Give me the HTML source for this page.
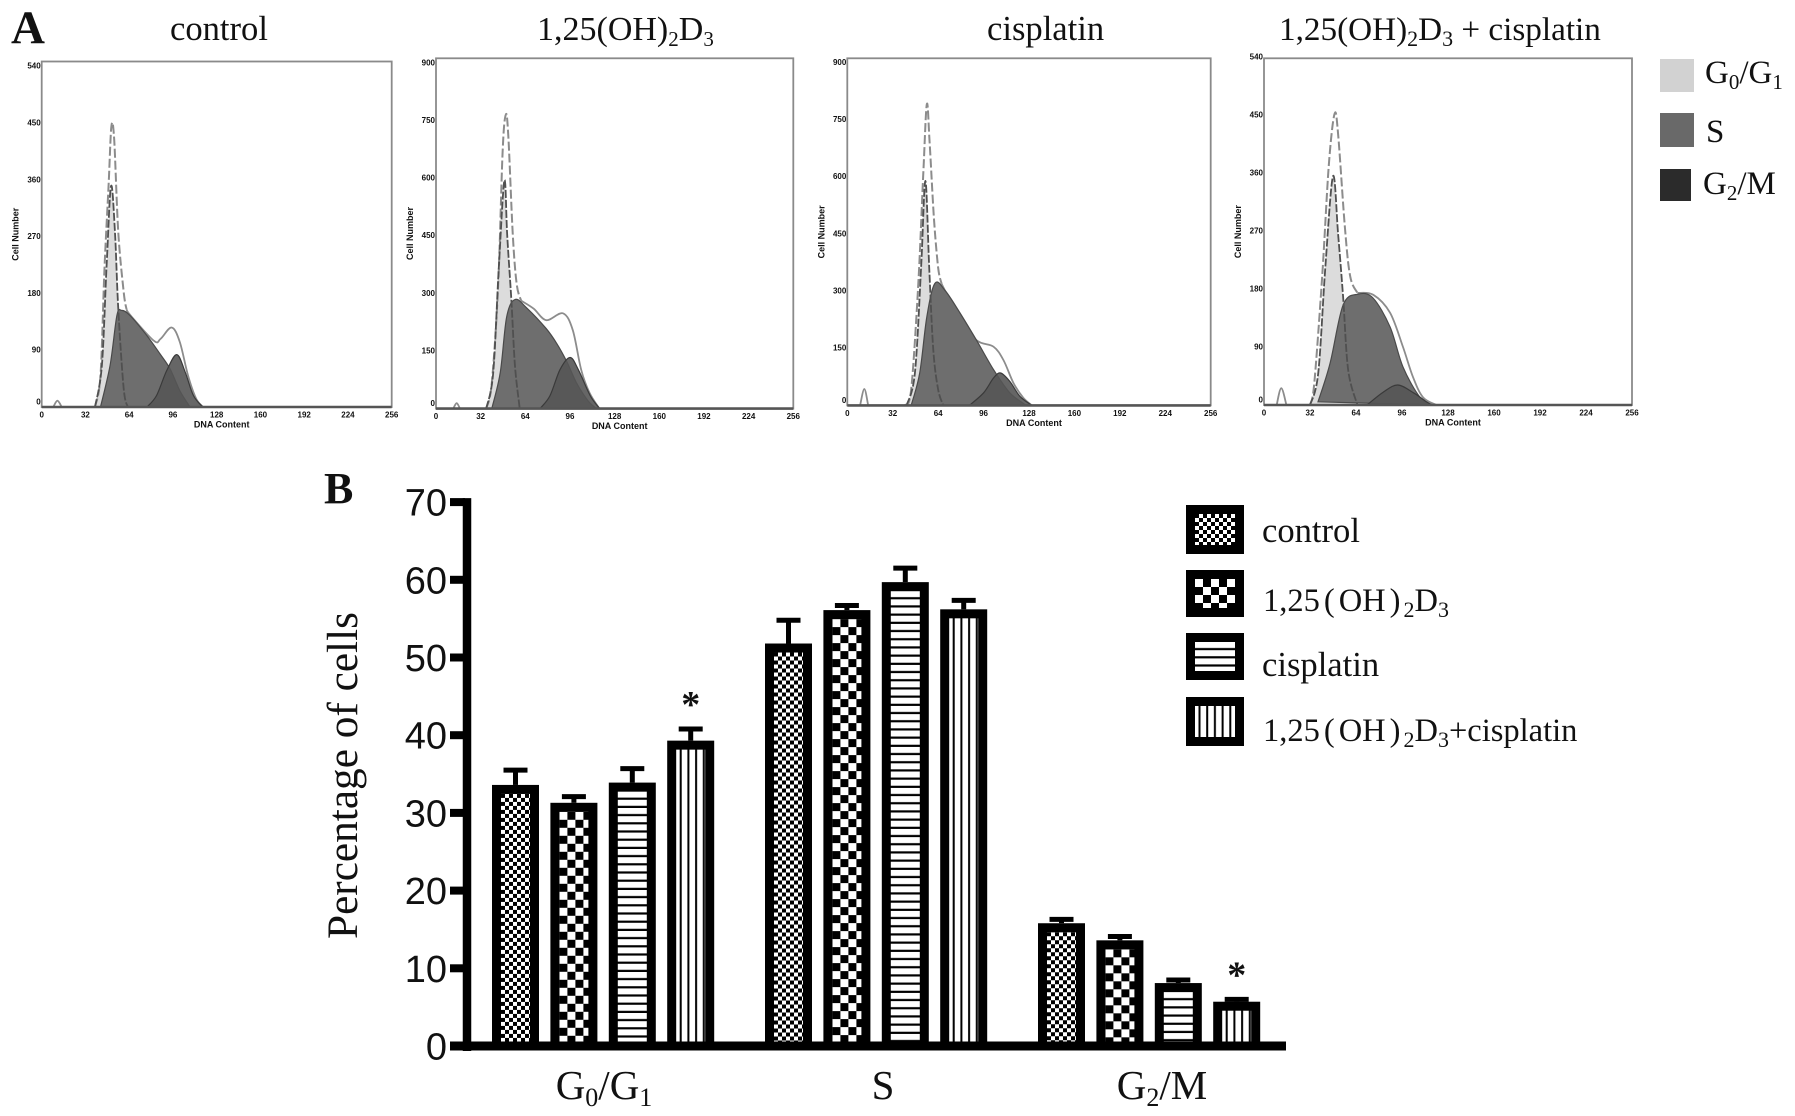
<!DOCTYPE html>
<html lang="en">
<head>
<meta charset="utf-8">
<title>Cell cycle distribution</title>
<style>
html,body{margin:0;padding:0;background:#fff}
svg{display:block}
text{font-family:"Liberation Serif",serif;fill:#111}
.sans{font-family:"Liberation Sans",sans-serif}
</style>
</head>
<body>
<svg id="figure" xmlns="http://www.w3.org/2000/svg" width="1795" height="1116" viewBox="0 0 1795 1116">
<defs>
<pattern id="pat-fine" width="8" height="8" patternUnits="userSpaceOnUse"><rect width="8" height="8" fill="#fff"/><rect width="4" height="4" fill="#000"/><rect x="4" y="4" width="4" height="4" fill="#000"/></pattern>
<pattern id="pat-coarse" width="16" height="16" patternUnits="userSpaceOnUse"><rect width="16" height="16" fill="#fff"/><rect x="8" width="8" height="8" fill="#000"/><rect y="8" width="8" height="8" fill="#000"/></pattern>
<pattern id="pat-horizontal" width="8.2" height="8.2" patternUnits="userSpaceOnUse"><rect width="8.2" height="8.2" fill="#fff"/><rect y="6" width="8.2" height="2.2" fill="#000"/></pattern>
<pattern id="pat-vertical" width="7.7" height="7.7" patternUnits="userSpaceOnUse"><rect width="7.7" height="7.7" fill="#fff"/><rect x="3.5" width="2" height="7.7" fill="#000"/></pattern>
</defs>
<rect width="1795" height="1116" fill="#fff"/>

<text x="11" y="43" font-size="47" font-weight="bold">A</text>
<text x="324" y="503" font-size="44" font-weight="bold">B</text>

<text x="170" y="40" font-size="34.6">control</text>
<text x="537" y="40" font-size="34">1,25(OH)<tspan font-size="21" dy="6">2</tspan><tspan dy="-6">D</tspan><tspan font-size="21" dy="6">3</tspan></text>
<text x="987" y="40" font-size="34.6">cisplatin</text>
<text x="1279" y="40" font-size="33.2">1,25(OH)<tspan font-size="22" dy="6">2</tspan><tspan dy="-6">D</tspan><tspan font-size="22" dy="6">3</tspan><tspan dy="-6"> + cisplatin</tspan></text>

<g>
<rect x="1660" y="59" width="34" height="33" fill="#d2d2d2"/>
<rect x="1660" y="113" width="34" height="34" fill="#696969"/>
<rect x="1660" y="169" width="31" height="32" fill="#2b2b2b"/>
<text x="1705" y="83" font-size="33">G<tspan font-size="21" dy="6">0</tspan><tspan dy="-6">/G</tspan><tspan font-size="21" dy="6">1</tspan></text>
<text x="1706" y="142" font-size="33">S</text>
<text x="1703" y="194" font-size="33">G<tspan font-size="21" dy="6">2</tspan><tspan dy="-6">/M</tspan></text>
</g>

<g id="histograms"></g>

<text transform="translate(357,939) rotate(-90)" font-size="43.3">Percentage of cells</text>
<g id="barchart"></g>

<g>
<rect x="1186" y="505" width="58" height="49" fill="#000"/>
<rect transform="translate(1195,514)" width="40" height="31" fill="url(#pat-fine)"/>
<rect x="1186" y="570" width="58" height="47" fill="#000"/>
<rect transform="translate(1195,579)" width="40" height="29" fill="url(#pat-coarse)"/>
<rect x="1186" y="633" width="58" height="47" fill="#000"/>
<rect transform="translate(1195,642)" width="40" height="29" fill="url(#pat-horizontal)"/>
<rect x="1186" y="697" width="58" height="49" fill="#000"/>
<rect transform="translate(1195,706)" width="40" height="31" fill="url(#pat-vertical)"/>
<text x="1262" y="542" font-size="34.6">control</text>
<text x="1263" y="611" font-size="32.5">1,25<tspan dx="4">(</tspan><tspan dx="4">OH</tspan><tspan dx="4">)</tspan><tspan font-size="22" dx="3" dy="6">2</tspan><tspan dy="-6">D</tspan><tspan font-size="22" dy="6">3</tspan></text>
<text x="1262" y="676" font-size="34.6">cisplatin</text>
<text x="1263" y="741" font-size="32.5">1,25<tspan dx="4">(</tspan><tspan dx="4">OH</tspan><tspan dx="4">)</tspan><tspan font-size="22" dx="3" dy="6">2</tspan><tspan dy="-6">D</tspan><tspan font-size="22" dy="6">3</tspan><tspan dy="-6">+cisplatin</tspan></text>
</g>
</svg>

<script>
/* ---------- Bar chart data (percentage of cells) ---------- */
const categories = ['G_0/G_1', 'S', 'G_2/M'];
const controlValues = [33.6, 51.8, 15.8];
const vitaminDValues = [31.3, 56.1, 13.6];
const cisplatinValues = [33.9, 59.7, 8.1];
const combinationValues = [39.3, 56.2, 5.7];
const controlErrors = [1.9, 3.0, 0.5];
const vitaminDErrors = [0.8, 0.6, 0.5];
const cisplatinErrors = [1.8, 1.8, 0.4];
const combinationErrors = [1.5, 1.15, 0.3];
const significantCategories = ['G_0/G_1', 'G_2/M'];
const barTicks = [0, 10, 20, 30, 40, 50, 60, 70];

/* ---------- Histogram data: channel (DNA content) / cell number ---------- */
const dnaTicks = [0, 32, 64, 96, 128, 160, 192, 224, 256];
const cellTicks540 = [0, 90, 180, 270, 360, 450, 540];
const cellTicks900 = [0, 150, 300, 450, 600, 750, 900];

const controlPeakCh = [39, 43, 46, 49, 51, 53, 56, 60, 62];
const controlPeakN = [0, 50, 224, 355, 445, 424, 276, 182, 155];
const controlTailCh = [62, 65, 82, 87, 95, 101, 107, 113, 118];
const controlTailN = [155, 145, 105, 108, 126, 103, 50, 13, 0];
const controlG1Ch = [39, 44, 47.5, 50.7, 53.6, 56, 60, 63];
const controlG1N = [0, 66, 224, 350, 276, 155, 29, 0];
const controlSCh = [43, 50, 55, 58.5, 64.6, 77, 86.6, 94, 101, 108.5];
const controlSN = [0, 66, 145, 153, 145, 113, 84, 60, 26, 0];
const controlG2Ch = [77, 84, 91.5, 98.8, 105, 111, 118];
const controlG2N = [0, 18, 58, 83, 55, 18, 0];
const controlSpikeCh = [8.5, 11.5, 14.6];
const controlSpikeN = [0, 10, 0];

const vitaminPeakCh = [36, 40, 44.6, 47.7, 50, 51.8, 55, 57.8, 61];
const vitaminPeakN = [0, 67, 324, 667, 765, 710, 452, 324, 281];
const vitaminTailCh = [61, 70, 79, 91, 98, 104, 110, 117];
const vitaminTailN = [281, 260, 230, 248, 204, 101, 41, 0];
const vitaminG1Ch = [36, 41, 45, 49, 51, 54, 56.6, 60];
const vitaminG1N = [0, 93, 367, 594, 452, 281, 110, 0];
const vitaminSCh = [40, 46, 50.6, 56.6, 65, 79, 86.4, 93.6, 100.7, 109, 115];
const vitaminSN = [0, 93, 238, 284, 262, 208, 170, 123, 67, 20, 0];
const vitaminG2Ch = [74.5, 81.6, 88.8, 96, 102, 110.6, 117.4];
const vitaminG2N = [0, 33, 101, 133, 101, 33, 0];
const vitaminSpikeCh = [12.4, 14.8, 17.2];
const vitaminSpikeN = [0, 14, 0];

const cisplatinPeakCh = [40.6, 45, 50, 53.5, 56, 58, 61, 64, 66.4];
const cisplatinPeakN = [0, 42, 319, 604, 790, 691, 492, 362, 319];
const cisplatinTailCh = [66.4, 70, 79, 91, 103, 110, 117, 124, 130];
const cisplatinTailN = [319, 293, 232, 171, 154, 119, 59, 20, 0];
const cisplatinG1Ch = [41.8, 47.6, 52, 55, 57.7, 60.6, 64, 67.6];
const cisplatinG1N = [0, 85, 362, 589, 362, 145, 42, 0];
const cisplatinSCh = [45, 51, 56, 61.7, 69, 79, 91, 103, 114.5, 126];
const cisplatinSN = [0, 85, 232, 320, 301, 245, 171, 94, 33, 0];
const cisplatinG2Ch = [86, 96, 103, 108, 114.5, 121.6, 130];
const cisplatinG2N = [0, 33, 72, 85, 63, 24, 0];
const cisplatinSpikeCh = [9, 12, 14.7];
const cisplatinSpikeN = [0, 43, 0];

const comboPeakCh = [32, 35, 40.5, 45, 49, 51.5, 56.4, 60, 65];
const comboPeakN = [0, 34, 200, 370, 451, 422, 272, 199, 174];
const comboTailCh = [65, 76, 87.7, 96.7, 103.7, 110.6, 120];
const comboTailN = [174, 171, 143, 90, 43, 12, 0];
const comboG1Ch = [32, 37.7, 42.7, 48, 51.5, 55, 58.6, 65];
const comboG1N = [0, 49, 215, 355, 267, 168, 54, 0];
const comboSCh = [37.6, 46, 55, 65.4, 75.8, 87.7, 96.7, 108.5, 117.6];
const comboSN = [5, 65, 155, 172, 166, 121, 59, 12, 0];
const comboG2Ch = [71.6, 83, 93, 104, 113, 117];
const comboG2N = [0, 20, 31, 19, 5, 0];
const comboSpikeCh = [8.8, 12, 15.6];
const comboSpikeN = [0, 26, 0];

const SVG_NS = 'http://www.w3.org/2000/svg';
function make(tag, attrs, parent) {
  const node = document.createElementNS(SVG_NS, tag);
  for (const key in attrs) node.setAttribute(key, attrs[key]);
  parent.appendChild(node);
  return node;
}

/* ---------- Histogram drawing ---------- */
function smoothPath(xs, ys) {
  let d = 'M' + xs[0].toFixed(1) + ' ' + ys[0].toFixed(1);
  for (let i = 0; i < xs.length - 1; i++) {
    const a = Math.max(i - 1, 0), b = Math.min(i + 2, xs.length - 1);
    const c1x = xs[i] + (xs[i + 1] - xs[a]) / 6, c1y = ys[i] + (ys[i + 1] - ys[a]) / 6;
    const c2x = xs[i + 1] - (xs[b] - xs[i]) / 6, c2y = ys[i + 1] - (ys[b] - ys[i]) / 6;
    d += 'C' + c1x.toFixed(1) + ' ' + c1y.toFixed(1) + ' ' + c2x.toFixed(1) + ' ' + c2y.toFixed(1) + ' ' + xs[i + 1].toFixed(1) + ' ' + ys[i + 1].toFixed(1);
  }
  return d;
}

function drawHistogram(cfg) {
  const xOf = ch => cfg.left + ch * (cfg.right - cfg.left) / 256;
  const yOf = n => cfg.bottom - n * (cfg.bottom - cfg.maxY) / cfg.yTicks[cfg.yTicks.length - 1];
  const curve = (chs, ns) => smoothPath(chs.map(xOf), ns.map(yOf));
  const root = document.getElementById('histograms');

  const g = make('g', {}, root);
  
  

  const frame = make('rect', { x: cfg.left, y: cfg.top, width: cfg.right - cfg.left, height: cfg.bottom - cfg.top, fill: '#fff', stroke: '#8a8a8a', 'stroke-width': 1.8 }, g);
  
  

  const g1 = make('path', { d: curve(cfg.g1Ch, cfg.g1N) + 'Z', fill: '#dcdcdc' }, g);
  
  

  const peak = make('path', { d: curve(cfg.peakCh, cfg.peakN), fill: 'none', stroke: '#8c8c8c', 'stroke-width': 2, 'stroke-dasharray': '9 3' }, g);
  
  

  const tail = make('path', { d: curve(cfg.tailCh, cfg.tailN), fill: 'none', stroke: '#8c8c8c', 'stroke-width': 1.8 }, g);
  
  

  const spike = make('path', { d: curve(cfg.spikeCh, cfg.spikeN), fill: 'none', stroke: '#8c8c8c', 'stroke-width': 1.8 }, g);
  
  

  const s = make('path', { d: curve(cfg.sCh, cfg.sN) + 'Z', fill: '#6e6e6e', stroke: '#4a4a4a', 'stroke-width': 1.2 }, g);
  
  

  const g2 = make('path', { d: curve(cfg.g2Ch, cfg.g2N) + 'Z', fill: '#555', 'fill-opacity': 0.9, stroke: '#3a3a3a', 'stroke-width': 1.2 }, g);
  
  

  const g1Line = make('path', { d: curve(cfg.g1Ch, cfg.g1N), fill: 'none', stroke: '#505050', 'stroke-width': 1.8, 'stroke-dasharray': '8 2' }, g);
  
  

  const base = make('line', { x1: cfg.left, x2: cfg.right, y1: cfg.bottom, y2: cfg.bottom, stroke: '#555', 'stroke-width': 2.6 }, g);
  
  

  dnaTicks.forEach(t => {
    const label = make('text', { x: xOf(t), y: cfg.bottom + 10.5, 'font-size': 8, 'font-weight': 'bold', 'text-anchor': 'middle', class: 'sans', fill: '#444' }, g);
    label.textContent = t;
    
    
  });
  cfg.yTicks.forEach(t => {
    const label = make('text', { x: cfg.left - 1, y: yOf(t) + 2.5 - (t === 0 ? 5 : 0), 'font-size': 8, 'font-weight': 'bold', 'text-anchor': 'end', class: 'sans', fill: '#444' }, g);
    label.textContent = t;
    
    
  });

  const xTitle = make('text', { x: (cfg.left + cfg.right) / 2 + 5, y: cfg.bottom + 20.5, 'font-size': 9, 'font-weight': 'bold', 'text-anchor': 'middle', class: 'sans', fill: '#555' }, g);
  xTitle.textContent = 'DNA Content';
  
  

  const cy = (cfg.top + cfg.bottom) / 2;
  const yTitle = make('text', { transform: 'translate(' + (cfg.left - 23) + ',' + cy + ') rotate(-90)', 'font-size': 9, 'font-weight': 'bold', 'text-anchor': 'middle', class: 'sans', fill: '#555' }, g);
  yTitle.textContent = 'Cell Number';
  
  
}

drawHistogram({ name: 'control', left: 41.7, right: 391.7, top: 61.5, bottom: 407, maxY: 66.2, yTicks: cellTicks540,
  peakCh: controlPeakCh, peakN: controlPeakN, tailCh: controlTailCh, tailN: controlTailN, g1Ch: controlG1Ch, g1N: controlG1N,
  sCh: controlSCh, sN: controlSN, g2Ch: controlG2Ch, g2N: controlG2N, spikeCh: controlSpikeCh, spikeN: controlSpikeN });
drawHistogram({ name: 'vitamin-d', left: 436, right: 793.3, top: 58.3, bottom: 408.6, maxY: 62.8, yTicks: cellTicks900,
  peakCh: vitaminPeakCh, peakN: vitaminPeakN, tailCh: vitaminTailCh, tailN: vitaminTailN, g1Ch: vitaminG1Ch, g1N: vitaminG1N,
  sCh: vitaminSCh, sN: vitaminSN, g2Ch: vitaminG2Ch, g2N: vitaminG2N, spikeCh: vitaminSpikeCh, spikeN: vitaminSpikeN });
drawHistogram({ name: 'cisplatin', left: 847.3, right: 1210.7, top: 58.3, bottom: 405.4, maxY: 62.4, yTicks: cellTicks900,
  peakCh: cisplatinPeakCh, peakN: cisplatinPeakN, tailCh: cisplatinTailCh, tailN: cisplatinTailN, g1Ch: cisplatinG1Ch, g1N: cisplatinG1N,
  sCh: cisplatinSCh, sN: cisplatinSN, g2Ch: cisplatinG2Ch, g2N: cisplatinG2N, spikeCh: cisplatinSpikeCh, spikeN: cisplatinSpikeN });
drawHistogram({ name: 'combination', left: 1264, right: 1632, top: 58.3, bottom: 405, maxY: 57, yTicks: cellTicks540,
  peakCh: comboPeakCh, peakN: comboPeakN, tailCh: comboTailCh, tailN: comboTailN, g1Ch: comboG1Ch, g1N: comboG1N,
  sCh: comboSCh, sN: comboSN, g2Ch: comboG2Ch, g2N: comboG2N, spikeCh: comboSpikeCh, spikeN: comboSpikeN });

/* ---------- Bar chart drawing ---------- */
const chart = document.getElementById('barchart');
const valueY = v => 1046 - v * 7.77;
const groupX = i => 492 + i * 273;
const barX = (i, j) => groupX(i) + j * 58.4;
const labelX = i => 604 + i * 279;
const BAR_WIDTH = 47;
const BORDER = 9;

const barSeries = [
  { key: 'control', values: controlValues, errors: controlErrors, fill: 'url(#pat-fine)' },
  { key: 'vitamin-d', values: vitaminDValues, errors: vitaminDErrors, fill: 'url(#pat-coarse)' },
  { key: 'cisplatin', values: cisplatinValues, errors: cisplatinErrors, fill: 'url(#pat-horizontal)' },
  { key: 'combination', values: combinationValues, errors: combinationErrors, fill: 'url(#pat-vertical)' }
];

barSeries.forEach((series, j) => {
  series.values.forEach((v, i) => {
    const x = barX(i, j), top = valueY(v), hi = valueY(v + series.errors[i]), mid = x + BAR_WIDTH / 2;

    const stem = make('line', { x1: mid, x2: mid, y1: top, y2: hi, stroke: '#000', 'stroke-width': 5 }, chart);
    
    

    const cap = make('line', { x1: mid - 12, x2: mid + 12, y1: hi, y2: hi, stroke: '#000', 'stroke-width': 5 }, chart);
    
    

    const outer = make('rect', { x: x, y: top, width: BAR_WIDTH, height: valueY(0) - top, fill: '#000' }, chart);
    
    

    const innerHeight = Math.max(valueY(0) - top - BORDER, 0);
    const inner = make('rect', { transform: 'translate(' + (x + BORDER) + ',' + (top + BORDER) + ')', width: BAR_WIDTH - 2 * BORDER, height: innerHeight, fill: series.fill }, chart);
    
    
  });
});

const yAxis = make('line', { x1: 467, x2: 467, y1: valueY(70) - 4, y2: valueY(0) + 5, stroke: '#000', 'stroke-width': 8.5 }, chart);



const xAxis = make('line', { x1: 450, x2: 1286, y1: valueY(0), y2: valueY(0), stroke: '#000', 'stroke-width': 9 }, chart);



barTicks.forEach(t => {
  const tick = make('line', { x1: 450, x2: 465, y1: valueY(t), y2: valueY(t), stroke: '#000', 'stroke-width': 8 }, chart);
  
  

  const label = make('text', { x: 447, y: valueY(t) + 13.5, 'font-size': 38, 'text-anchor': 'end', class: 'sans' }, chart);
  label.textContent = t;
  
  
});

categories.forEach((name, i) => {
  const label = make('text', { x: labelX(i), y: 1099, 'font-size': 41, 'text-anchor': 'middle' }, chart);
  name.split('_').forEach((part, k) => {
    if (k === 0) {
      const span = make('tspan', {}, label);
      span.textContent = part;
    } else {
      const sub = make('tspan', { 'font-size': 26, dy: 7 }, label);
      sub.textContent = part[0];
      if (part.length > 1) {
        const rest = make('tspan', { dy: -7 }, label);
        rest.textContent = part.slice(1);
      }
    }
  });
  
  

  if (significantCategories.includes(name)) {
    const top = valueY(combinationValues[i] + combinationErrors[i]);
    const star = make('text', { x: barX(i, 3) + BAR_WIDTH / 2, y: top - 12, 'font-size': 38, 'font-weight': 'bold', 'text-anchor': 'middle' }, chart);
    star.textContent = '*';
    
    
  }
});
</script>
</body>
</html>
